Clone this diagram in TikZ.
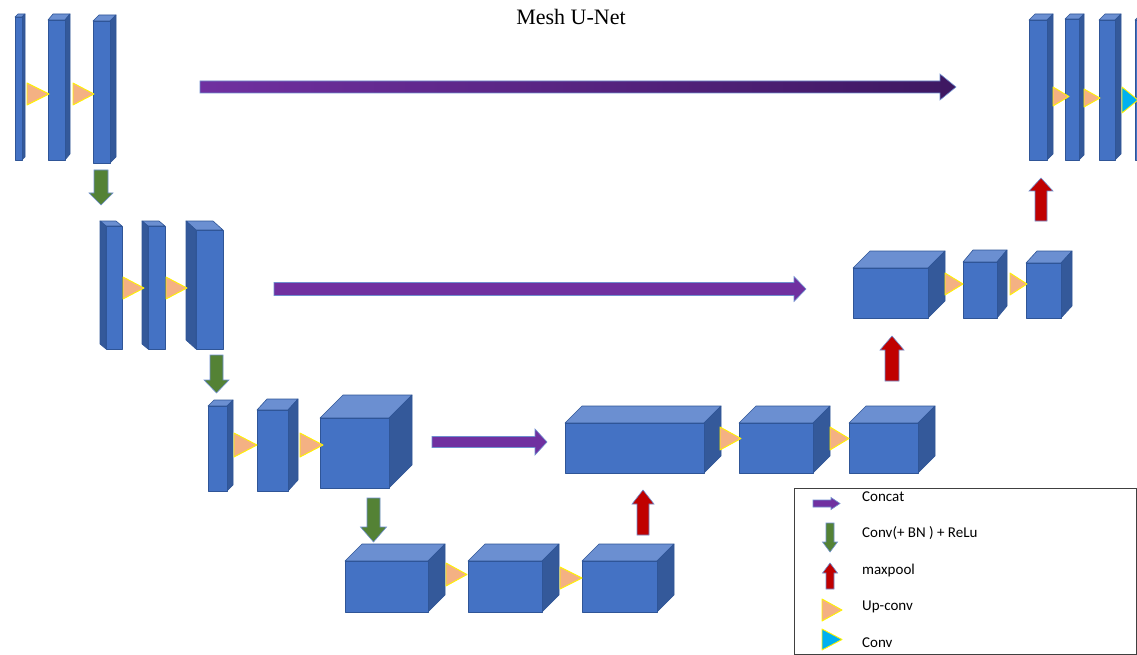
\documentclass[tikz,border=0pt]{standalone}
\usepackage{fontspec}
\setmainfont{Liberation Serif}
\newfontfamily\legendfont{Carlito}
\definecolor{frontc}{HTML}{4472C4}
\definecolor{topc}{HTML}{6B8FD1}
\definecolor{sidec}{HTML}{34599A}
\definecolor{edgec}{HTML}{2F5597}
\definecolor{trifill}{HTML}{F4B183}
\definecolor{triedge}{HTML}{FFF200}
\definecolor{convc}{HTML}{00B0F0}
\definecolor{greenc}{HTML}{548235}
\definecolor{redc}{HTML}{C00000}
\definecolor{purplec}{HTML}{7030A0}
\definecolor{purpledark}{HTML}{3E1861}
\definecolor{arrowedge}{HTML}{6F8FCF}
\definecolor{legendline}{HTML}{404040}
\tikzset{
  facefront/.style={fill=frontc,draw=edgec,line width=0.6pt,line join=round},
  facetop/.style={fill=topc,draw=edgec,line width=0.6pt,line join=round},
  faceside/.style={fill=sidec,draw=edgec,line width=0.6pt,line join=round},
  upconv/.style={fill=trifill,draw=triedge,line width=0.9pt,line join=round},
  convtri/.style={fill=convc,draw=triedge,line width=0.9pt,line join=round},
  greenarrow/.style={fill=greenc,draw=arrowedge,line width=0.6pt},
  redarrow/.style={fill=redc,draw=arrowedge,line width=0.6pt},
  purplearrow/.style={fill=purplec,draw=arrowedge,line width=0.6pt},
  legendtext/.style={anchor=west,inner sep=0pt,font=\legendfont\fontsize{15}{17}\selectfont}
}
% cuboid: name, x1, y1, x2, y2 (front face), dx, dy (depth offset)
\newcommand\cuboid[7]{%
  \path[facetop] (#2,#3) -- ({#2+(#6)},{#3-(#7)}) -- ({#4+(#6)},{#3-(#7)}) -- (#4,#3) -- cycle;
  \ifdim #6pt<0pt
    \path[faceside] (#2,#3) -- ({#2+(#6)},{#3-(#7)}) -- ({#2+(#6)},{#5-(#7)}) -- (#2,#5) -- cycle;
  \else
    \path[faceside] (#4,#3) -- ({#4+(#6)},{#3-(#7)}) -- ({#4+(#6)},{#5-(#7)}) -- (#4,#5) -- cycle;
  \fi
  \path[facefront] (#2,#3) rectangle (#4,#5);
  \coordinate (#1) at ({(#2+#4)/2},{(#3+#5)/2});
}
% triangle: x1, y1, x2, y2, style
\newcommand\tri[5]{%
  \path[#5] (#1,#2) -- (#3,{(#2+#4)/2}) -- (#1,#4) -- cycle;
}
% horizontal arrow: x1, x2, yc, shaft half, head half, head length, style
\newcommand\harr[7]{%
  \path[#7] (#1,{#3-#4}) -- ({#2-#6},{#3-#4}) -- ({#2-#6},{#3-#5}) -- (#2,#3)
    -- ({#2-#6},{#3+#5}) -- ({#2-#6},{#3+#4}) -- (#1,{#3+#4}) -- cycle;
}
% down arrow: xc, ytail, ytip, shaft half, head half, head length, style
\newcommand\darr[7]{%
  \path[#7] ({#1-#4},#2) -- ({#1+#4},#2) -- ({#1+#4},{#3-#6}) -- ({#1+#5},{#3-#6})
    -- (#1,#3) -- ({#1-#5},{#3-#6}) -- ({#1-#4},{#3-#6}) -- cycle;
}
% up arrow
\newcommand\uarr[7]{%
  \path[#7] ({#1-#4},#2) -- ({#1+#4},#2) -- ({#1+#4},{#3+#6}) -- ({#1+#5},{#3+#6})
    -- (#1,#3) -- ({#1-#5},{#3+#6}) -- ({#1-#4},{#3+#6}) -- cycle;
}
\begin{document}
\begin{tikzpicture}[x=1pt,y=-1pt]
\useasboundingbox (0,0) rectangle (1137,655);
\fill[white] (0,0) rectangle (1137,655);

% title
\node[font=\fontsize{22}{25}\selectfont,inner sep=0pt] (title) at (571,17) {Mesh U-Net};

% ---- level 1 left
\cuboid{a1}{15}{17}{22}{160}{3}{3}
\cuboid{a2}{48}{20}{65}{160}{5}{6}
\cuboid{a3}{93}{21}{110}{163}{6}{6}
\tri{27}{83}{49}{105}{upconv}
\tri{73}{83}{94}{105}{upconv}

% ---- level 1 right
\cuboid{f1}{1029}{20}{1047}{160}{6}{6}
\cuboid{f2}{1065}{19}{1079}{160}{5}{5}
\cuboid{f3}{1099}{20}{1115}{160}{6}{6}
\cuboid{f4}{1135}{20}{1152}{160}{6}{6}
\tri{1053}{87}{1069}{106}{upconv}
\tri{1084}{89}{1100}{107}{upconv}
\tri{1122}{87}{1138}{113}{convtri}

% ---- level 2 left
\cuboid{b1}{106}{226}{122}{349}{-6}{5}
\cuboid{b2}{148}{226}{165}{349}{-6}{5}
\cuboid{b3}{196}{230}{223}{349}{-10}{9}
\tri{123}{277}{144}{299}{upconv}
\tri{166}{277}{187}{299}{upconv}

% ---- level 2 right
\cuboid{e1}{853}{268}{928}{318}{17}{17}
\cuboid{e2}{963}{262}{997}{318}{10}{12}
\cuboid{e3}{1026}{263}{1061}{318}{11}{12}
\tri{945}{273}{963}{295}{upconv}
\tri{1010}{273}{1027}{295}{upconv}

% ---- level 3 left
\cuboid{c1}{208}{406}{227}{491}{6}{6}
\cuboid{c2}{257}{410}{288}{491}{10}{11}
\cuboid{c3}{320}{418}{389}{488}{23}{23}
\tri{234}{433}{257}{457}{upconv}
\tri{300}{433}{323}{457}{upconv}

% ---- level 3 right
\cuboid{d1}{565}{423}{704}{473}{17}{17}
\cuboid{d2}{739}{423}{813}{473}{17}{17}
\cuboid{d3}{849}{423}{918}{473}{17}{17}
\tri{720}{427}{741}{450}{upconv}
\tri{830}{427}{849}{450}{upconv}

% ---- bottom level
\cuboid{g1}{345}{561}{428}{612}{17}{17}
\cuboid{g2}{468}{561}{542}{612}{17}{17}
\cuboid{g3}{582}{561}{657}{612}{17}{17}
\tri{446}{563}{467}{586}{upconv}
\tri{560}{567}{582}{589}{upconv}

% ---- concat arrows
\path[shade,left color=purplec,right color=purpledark,draw=arrowedge,line width=0.6pt]
  (200,81) -- (940,81) -- (940,74) -- (956,87) -- (940,100) -- (940,93) -- (200,93) -- cycle;
\harr{274}{806}{289}{6.5}{12.5}{12}{purplearrow}
\harr{432}{547}{442}{5.5}{13}{12}{purplearrow}

% ---- down arrows
\darr{101}{170}{205}{7}{12}{12}{greenarrow}
\darr{216.5}{355}{393}{6.5}{12.5}{13}{greenarrow}
\darr{373.5}{498}{542}{6.5}{13}{15}{greenarrow}

% ---- up arrows
\uarr{643}{535}{490}{6}{11}{14}{redarrow}
\uarr{892}{381}{336}{7}{12}{14}{redarrow}
\uarr{1041}{221}{178}{6}{12}{13}{redarrow}

% ---- legend
\draw[legendline,line width=0.8pt] (794,488) rectangle (1136.5,654);
\harr{813}{840}{503.5}{3.5}{6}{9}{purplearrow}
\darr{830}{523}{552}{4}{7.5}{10}{greenarrow}
\uarr{830}{589}{563}{4}{7.5}{10}{redarrow}
\tri{822}{599}{842}{621}{upconv}
\tri{822}{629}{842}{650}{convtri}
\node[legendtext] (l1) at (862,497) {Concat};
\node[legendtext] (l2) at (862,533) {Conv(+ BN ) + ReLu};
\node[legendtext] (l3) at (862,570) {maxpool};
\node[legendtext] (l4) at (862,607) {Up-conv};
\node[legendtext] (l5) at (862,643) {Conv};
\end{tikzpicture}
\end{document}
